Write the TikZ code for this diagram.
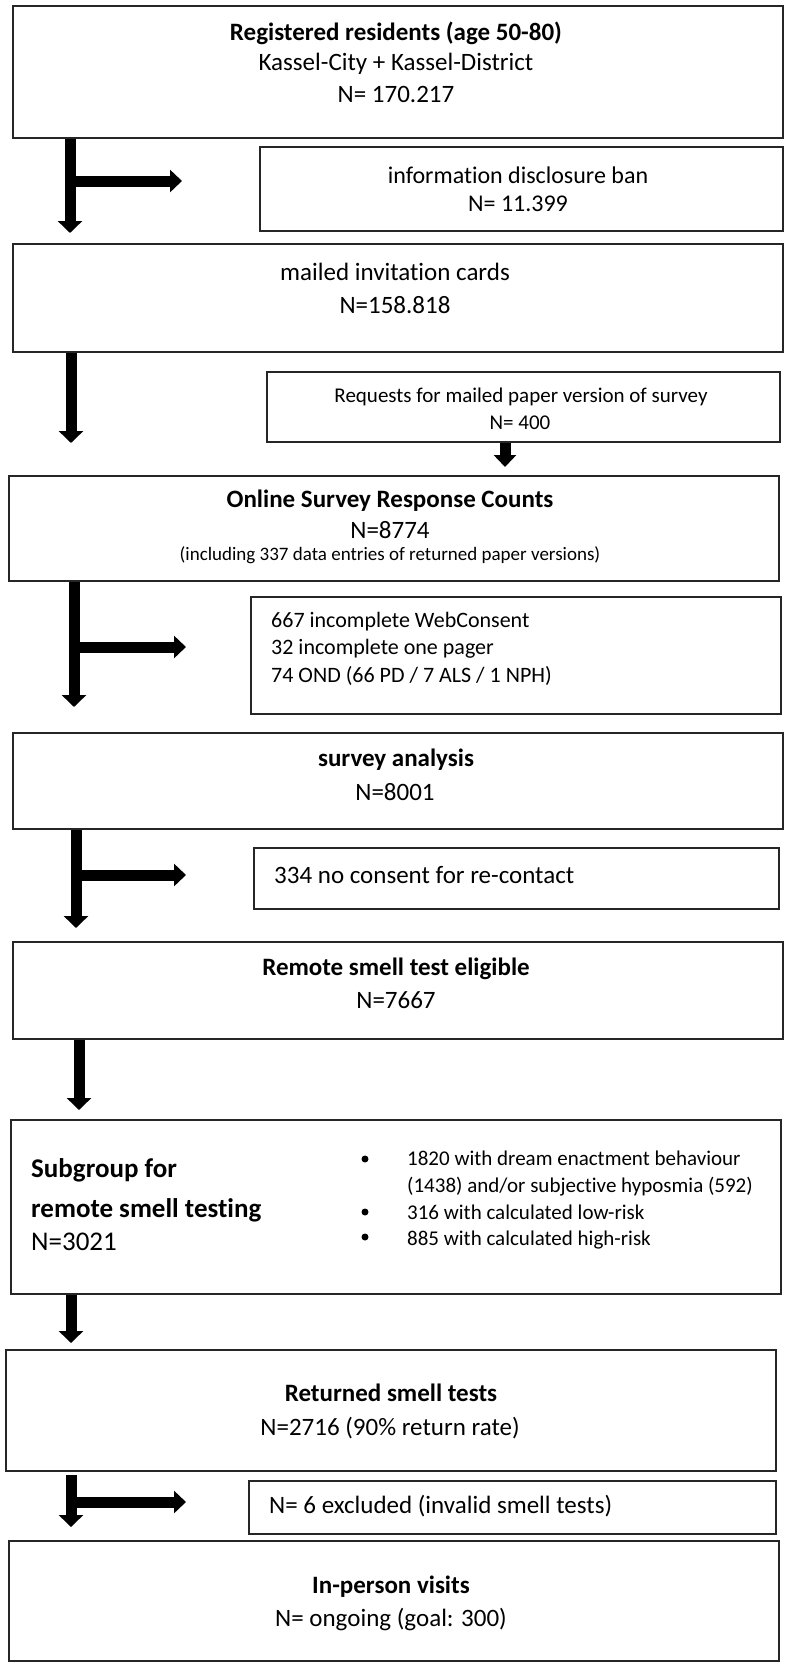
\documentclass[tikz,border=0pt]{standalone}
\usepackage{fontspec}
\setmainfont{Carlito}[Ligatures=NoCommon]
\usetikzlibrary{arrows.meta}
\newcommand{\fs}[1]{\fontsize{#1}{#1}\selectfont}
\tikzset{
  box/.style={draw=black!85, line width=1.6pt, anchor=north west, inner sep=0pt},
  t/.style={anchor=base, inner sep=0pt, text=black},
  tl/.style={anchor=base west, inner sep=0pt, text=black},
  arr/.style={line width=11pt, draw=black, -{Triangle[width=24pt,length=12pt]}},
  arrs/.style={line width=11pt, draw=black, -{Triangle[width=22pt,length=12pt]}},
  bul/.style={circle, fill=black, inner sep=0pt, minimum size=7pt},
}
\begin{document}
\begin{tikzpicture}[x=1pt,y=-1pt]
\useasboundingbox[fill=white] (0,0) rectangle (788,1667);
% boxes
\node[box, minimum width=770pt, minimum height=132pt] (b1) at (12,5) {};
\node[box, minimum width=523pt, minimum height=84pt] (b2) at (259,146) {};
\node[box, minimum width=770pt, minimum height=108pt] (b3) at (12,243) {};
\node[box, minimum width=513pt, minimum height=70pt] (b4) at (266,371) {};
\node[box, minimum width=770pt, minimum height=105pt] (b5) at (8,475) {};
\node[box, minimum width=530pt, minimum height=117pt] (b6) at (250,596) {};
\node[box, minimum width=770pt, minimum height=96pt] (b7) at (12,732) {};
\node[box, minimum width=525pt, minimum height=61pt] (b8) at (253,847) {};
\node[box, minimum width=770pt, minimum height=97pt] (b9) at (12,941) {};
\node[box, minimum width=770pt, minimum height=174pt] (b10) at (10,1119) {};
\node[box, minimum width=770pt, minimum height=121pt] (b11) at (5,1349) {};
\node[box, minimum width=527pt, minimum height=53pt] (b12) at (248,1480) {};
\node[box, minimum width=770pt, minimum height=120pt] (b13) at (8,1540) {};
% texts
\node[t, font=\fs{25}\bfseries] (t1a) at (396,41) {Registered residents (age 50-80)};
\node[t, font=\fs{25}] (t1b) at (396,71) {Kassel-City + Kassel-District};
\node[t, font=\fs{25}] (t1c) at (396,103) {N= 170.217};
\node[t, font=\fs{24}] (t2a) at (518,183) {information disclosure ban};
\node[t, font=\fs{24}] (t2b) at (518,211) {N= 11.399};
\node[t, font=\fs{25}] (t3a) at (395,280) {mailed invitation cards};
\node[t, font=\fs{25}] (t3b) at (395,313) {N=158.818};
\node[t, font=\fs{21}] (t4a) at (521,402) {Requests for mailed paper version of survey};
\node[t, font=\fs{21}] (t4b) at (520,429) {N= 400};
\node[t, font=\fs{25}\bfseries] (t5a) at (390,507) {Online Survey Response Counts};
\node[t, font=\fs{25}] (t5b) at (390,538) {N=8774};
\node[t, font=\fs{19}] (t5c) at (390,560) {(including 337 data entries of returned paper versions)};
\node[tl, font=\fs{22}] (t6a) at (271,627) {667 incomplete WebConsent};
\node[tl, font=\fs{22}] (t6b) at (271,654) {32 incomplete one pager};
\node[tl, font=\fs{22}] (t6c) at (271,682) {74 OND (66 PD / 7 ALS / 1 NPH)};
\node[t, font=\fs{25}\bfseries] (t7a) at (396,766) {survey analysis};
\node[t, font=\fs{25}] (t7b) at (395,800) {N=8001};
\node[tl, font=\fs{25}] (t8a) at (274,883) {334 no consent for re-contact};
\node[t, font=\fs{25}\bfseries] (t9a) at (396,975) {Remote smell test eligible};
\node[t, font=\fs{25}] (t9b) at (396,1008) {N=7667};
\node[tl, font=\fs{27}\bfseries] (t10a) at (31,1177) {Subgroup for};
\node[tl, font=\fs{27}\bfseries] (t10b) at (31,1217) {remote smell testing};
\node[tl, font=\fs{27}] (t10c) at (31,1250) {N=3021};
\node[bul] (u1) at (365,1159) {};
\node[bul] (u2) at (365,1212) {};
\node[bul] (u3) at (365,1237) {};
\node[tl, font=\fs{21}] (t10d) at (407,1165) {1820 with dream enactment behaviour};
\node[tl, font=\fs{21}] (t10e) at (407,1192) {(1438) and/or subjective hyposmia (592)};
\node[tl, font=\fs{21}] (t10f) at (407,1219) {316 with calculated low-risk};
\node[tl, font=\fs{21}] (t10g) at (407,1245) {885 with calculated high-risk};
\node[t, font=\fs{25}\bfseries] (t11a) at (391,1401) {Returned smell tests};
\node[t, font=\fs{25}] (t11b) at (390,1435) {N=2716 (90\% return rate)};
\node[tl, font=\fs{25}] (t12a) at (269,1513) {N= 6 excluded (invalid smell tests)};
\node[t, font=\fs{25}\bfseries] (t13a) at (391,1593) {In-person visits};
\node[t, font=\fs{25}] (t13b) at (391,1626) {N= ongoing (goal: 300)};
% arrow end points
\coordinate (e1) at (70,233);
\coordinate (h1) at (182,181);
\coordinate (e2) at (71,443);
\coordinate (e3) at (505,467);
\coordinate (e4) at (74,707);
\coordinate (h4) at (186,647);
\coordinate (e5) at (76,928);
\coordinate (h5) at (186,875);
\coordinate (e6) at (79,1110);
\coordinate (e7) at (71,1343);
\coordinate (e8) at (71,1527);
\coordinate (h8) at (186,1502);
% arrows
\draw[arr] (e1 |- b1.south) -- (e1);
\draw[arrs] (e1 |- h1) -- (h1);
\draw[arr] (e2 |- b3.south) -- (e2);
\draw[arrs] (e3 |- b4.south) -- (e3);
\draw[arr] (e4 |- b5.south) -- (e4);
\draw[arrs] (e4 |- h4) -- (h4);
\draw[arr] (e5 |- b7.south) -- (e5);
\draw[arrs] (e5 |- h5) -- (h5);
\draw[arr] (e6 |- b9.south) -- (e6);
\draw[arr] (e7 |- b10.south) -- (e7);
\draw[arr] ([yshift=-3pt]e8 |- b11.south) -- (e8);
\draw[arrs] (e8 |- h8) -- (h8);
\end{tikzpicture}
\end{document}
